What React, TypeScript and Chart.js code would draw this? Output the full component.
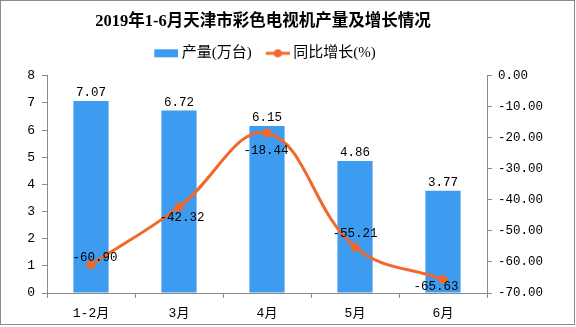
import React, { useEffect, useRef } from "react";
import { Chart, registerables } from "chart.js";

Chart.register(...registerables);

const titleText = "2019年1-6月天津市彩色电视机产量及增长情况";
const categories = ["1-2月", "3月", "4月", "5月", "6月"];
const outputValues = [7.07, 6.72, 6.15, 4.86, 3.77];
const growthValues = [-60.9, -42.32, -18.44, -55.21, -65.63];
const barLabel = "产量(万台)";
const lineLabel = "同比增长(%)";

const BAR_COLOR = "#3d9bf0";
const LINE_COLOR = "#f0682b";
const AXIS_COLOR = "#8a8a8a";
const TICK_FONT = '"Liberation Mono", "Noto Sans CJK SC", monospace';
const CJK_FONT = '"Liberation Serif", "Noto Sans CJK SC", serif';

// label placement relative to each line point (text centre offset in px)
const growthLabelOffsets: [number, number][] = [
  [4, -7],
  [3, 11],
  [-1, 18],
  [0, -13],
  [-7, 7],
];

const LEGEND_BOX_W = 24;
const ICON_W = LEGEND_BOX_W + 8;
const HEADER_RIGHT_SHIFT = 50;

function makeIcon(kind: "bar" | "line"): HTMLCanvasElement {
  const c = document.createElement("canvas");
  c.width = ICON_W;
  c.height = 10;
  const ctx = c.getContext("2d")!;
  const x0 = ICON_W - LEGEND_BOX_W;
  if (kind === "bar") {
    ctx.fillStyle = BAR_COLOR;
    ctx.fillRect(x0, 1, LEGEND_BOX_W, 8);
  } else {
    ctx.strokeStyle = LINE_COLOR;
    ctx.lineWidth = 3;
    ctx.beginPath();
    ctx.moveTo(x0, 5);
    ctx.lineTo(x0 + LEGEND_BOX_W, 5);
    ctx.stroke();
    ctx.fillStyle = LINE_COLOR;
    ctx.beginPath();
    ctx.arc(x0 + LEGEND_BOX_W / 2, 5, 4, 0, Math.PI * 2);
    ctx.fill();
  }
  return c;
}

const valueLabelsPlugin = {
  id: "valueLabels",
  afterDatasetsDraw(chart: any) {
    const ctx = chart.ctx;
    ctx.save();
    ctx.fillStyle = "#000";
    ctx.font = `12.5px ${TICK_FONT}`;
    ctx.textAlign = "center";
    ctx.textBaseline = "middle";
    const barMeta = chart.getDatasetMeta(0);
    barMeta.data.forEach((el: any, i: number) => {
      ctx.fillText(outputValues[i].toFixed(2), el.x, el.y - 8);
    });
    const lineMeta = chart.getDatasetMeta(1);
    lineMeta.data.forEach((el: any, i: number) => {
      const [dx, dy] = growthLabelOffsets[i];
      ctx.fillText(growthValues[i].toFixed(2), el.x + dx, el.y + dy);
    });
    ctx.restore();
  },
};

const layoutTweaksPlugin = {
  id: "layoutTweaks",
  afterInit(chart: any) {
    const lg = chart.legend;
    if (lg && !lg.__patched) {
      const orig = lg.fit;
      lg.fit = function () {
        orig.call(this);
        this.height += 5;
      };
      lg.__patched = true;
    }
  },
  afterLayout(chart: any) {
    // centre title and legend over the plot area rather than the whole canvas
    [chart.titleBlock, chart.legend].forEach((b: any) => {
      if (b) {
        b.right -= HEADER_RIGHT_SHIFT;
        b.width -= HEADER_RIGHT_SHIFT;
      }
    });
  },
  afterDraw(chart: any) {
    const ctx = chart.ctx;
    ctx.save();
    ctx.strokeStyle = "#8c8c8c";
    ctx.lineWidth = 1;
    ctx.strokeRect(0.5, 0.5, 574, 324);
    ctx.restore();
  },
};

export default function App() {
  const canvasRef = useRef<HTMLCanvasElement | null>(null);

  useEffect(() => {
    if (!canvasRef.current) return;
    const barIcon = makeIcon("bar");
    const lineIcon = makeIcon("line");
    const chart = new Chart(canvasRef.current, {
      type: "bar",
      data: {
        labels: categories,
        datasets: [
          {
            type: "bar",
            label: barLabel,
            data: outputValues,
            backgroundColor: BAR_COLOR,
            borderWidth: 0,
            barPercentage: 0.4,
            categoryPercentage: 1,
            yAxisID: "y",
            order: 1,
          },
          {
            type: "line",
            label: lineLabel,
            data: growthValues,
            borderColor: LINE_COLOR,
            backgroundColor: LINE_COLOR,
            borderWidth: 3,
            pointRadius: 4.5,
            pointBackgroundColor: LINE_COLOR,
            pointBorderWidth: 0,
            tension: 0.4,
            yAxisID: "y1",
            order: 0,
          } as any,
        ],
      },
      options: {
        animation: false,
        responsive: true,
        maintainAspectRatio: false,
        layout: { padding: 0 },
        plugins: {
          tooltip: { enabled: false },
          title: {
            display: true,
            text: titleText,
            color: "#000",
            font: { size: 16.5, weight: "bold", family: CJK_FONT },
            padding: { top: 12, bottom: 4 },
          },
          legend: {
            display: true,
            labels: {
              color: "#000",
              font: { size: 15, family: CJK_FONT },
              usePointStyle: true,
              pointStyleWidth: LEGEND_BOX_W,
              boxHeight: 8,
              padding: 10,
              sort: (a: any, b: any) => a.datasetIndex - b.datasetIndex,
              generateLabels: (chart: any) => {
                const items = (Chart.defaults.plugins.legend.labels as any).generateLabels(chart);
                items.forEach((it: any) => {
                  it.pointStyle = it.datasetIndex === 0 ? barIcon : lineIcon;
                  it.lineWidth = 0;
                });
                return items;
              },
            },
          },
        },
        scales: {
          x: {
            offset: true,
            grid: {
              display: true,
              drawOnChartArea: false,
              drawTicks: true,
              tickLength: 5,
              color: AXIS_COLOR,
              offset: true,
            },
            border: { display: true, color: AXIS_COLOR },
            ticks: { color: "#000", font: { size: 13, family: TICK_FONT }, padding: 8, maxRotation: 0 },
            afterFit: (s: any) => {
              s.height = 34;
            },
          },
          y: {
            position: "left",
            min: 0,
            max: 8,
            grid: { display: true, drawOnChartArea: false, tickLength: 5, color: AXIS_COLOR },
            border: { display: true, color: AXIS_COLOR },
            ticks: { stepSize: 1, color: "#000", font: { size: 13, family: TICK_FONT }, padding: 7 },
            afterFit: (s: any) => {
              s.width = 47;
            },
          },
          y1: {
            position: "right",
            min: -70,
            max: 0,
            grid: { display: true, drawOnChartArea: false, tickLength: 5, color: AXIS_COLOR },
            border: { display: true, color: AXIS_COLOR },
            ticks: {
              stepSize: 10,
              color: "#000",
              font: { size: 12.5, family: TICK_FONT },
              padding: 6,
              crossAlign: "near",
              callback: (v: any) => Number(v).toFixed(2),
            },
            afterFit: (s: any) => {
              s.width = 89;
            },
          },
        },
      },
      plugins: [valueLabelsPlugin, layoutTweaksPlugin],
    });
    return () => chart.destroy();
  }, []);

  return (
    <div style={{ position: "fixed", left: 0, top: 0, width: 576, height: 327, background: "#fff" }}>
      <canvas ref={canvasRef} />
    </div>
  );
}
